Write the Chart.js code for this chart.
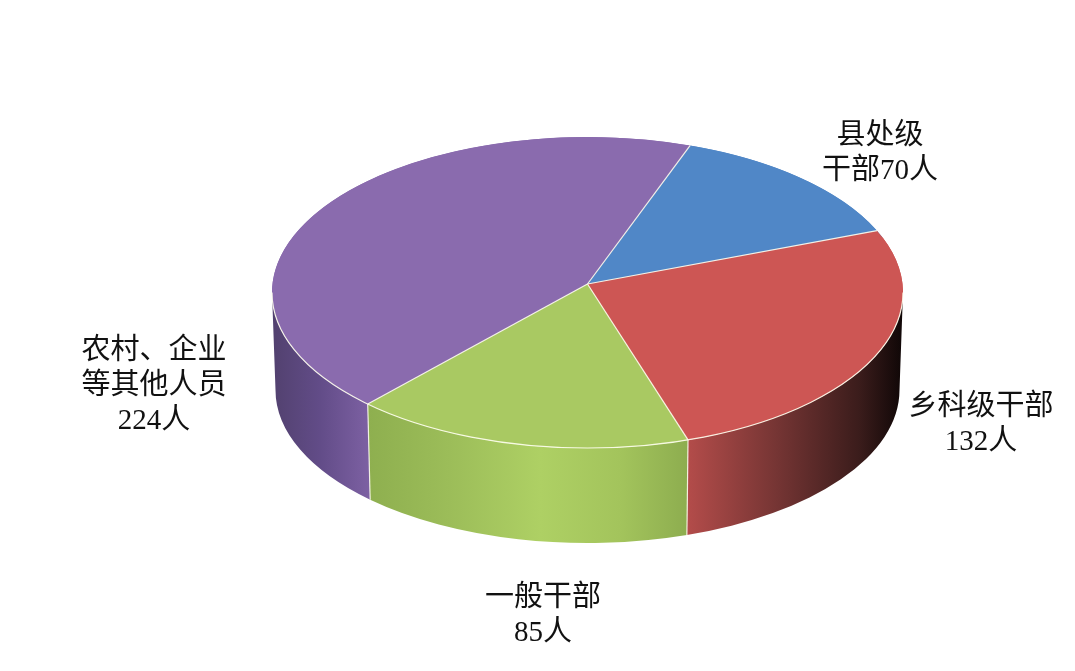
<!DOCTYPE html>
<html>
<head>
<meta charset="utf-8">
<script src="https://cdn.jsdelivr.net/npm/chart.js@4"></script>
<style>
html, body { margin: 0; padding: 0; background: #fff; }
canvas { display: block; }
</style>
</head>
<body>
<canvas id="pie" width="1075" height="671"></canvas>
<script>
const categories = ['县处级干部', '乡科级干部', '一般干部', '农村、企业等其他人员'];
const people = [70, 132, 85, 224];
const labelLines = [
    ['县处级', '干部70人'],
    ['乡科级干部', '132人'],
    ['一般干部', '85人'],
    ['农村、企业', '等其他人员', '224人']
];
const topColors = ['#5087c7', '#cd5654', '#a9c962', '#8a6bae'];

// look of the pie, separate from the data
const TOP = { x: 587.5, y: 292.5, rx: 315.5, ry: 155.5, apexY: 284 };
const BASE = { x: 587.5, y: 390, rx: 312, ry: 153 };
const LABEL_POS = [
    { x: 880, y: 136 },
    { x: 981, y: 407 },
    { x: 543, y: 598 },
    { x: 154, y: 351 }
];
const LINE_GAP = 35;
const FONT = '29px "Liberation Serif", "Noto Sans CJK SC", serif';
const wallStops = [
    null,
    [[688, '#b34c4a'], [780, '#733433'], [860, '#3a1c1b'], [900, '#120808']],
    [[368, '#8eaf4f'], [450, '#9cbd59'], [540, '#aed064'], [620, '#a3c45c'], [688, '#8dad4f']],
    [[273, '#52416f'], [320, '#624c88'], [368, '#7c60a2']]
];

// perspective pushes the rim points towards the far side of the ellipse
function warp(t) {
    return t - 0.051 * Math.cos(t);
}

function drawWalls(ctx, arcs) {
    arcs.forEach((arc, i) => {
        const a = Math.max(warp(arc.startAngle), 0);
        const b = Math.min(warp(arc.endAngle), Math.PI);
        if (b <= a || !wallStops[i]) return;
        const stops = wallStops[i];
        const x0 = stops[0][0];
        const x1 = stops[stops.length - 1][0];
        const grad = ctx.createLinearGradient(x0, 0, x1, 0);
        stops.forEach(s => grad.addColorStop((s[0] - x0) / (x1 - x0), s[1]));
        ctx.beginPath();
        ctx.ellipse(TOP.x, TOP.y, TOP.rx, TOP.ry, 0, a, b);
        ctx.ellipse(BASE.x, BASE.y, BASE.rx, BASE.ry, 0, b, a, true);
        ctx.closePath();
        ctx.fillStyle = grad;
        ctx.fill();
    });
    // thin light seams between the wall pieces
    ctx.strokeStyle = 'rgba(255,255,240,0.85)';
    ctx.lineWidth = 1.2;
    arcs.forEach(arc => {
        const t = warp(arc.startAngle);
        if (t > 0 && t < Math.PI) {
            ctx.beginPath();
            ctx.moveTo(TOP.x + TOP.rx * Math.cos(t), TOP.y + TOP.ry * Math.sin(t));
            ctx.lineTo(BASE.x + BASE.rx * Math.cos(t), BASE.y + BASE.ry * Math.sin(t));
            ctx.stroke();
        }
    });
}

const pie3d = {
    id: 'pie3d',
    beforeDatasetsDraw(chart) {
        const ctx = chart.ctx;
        const arcs = chart.getDatasetMeta(0).data;
        drawWalls(ctx, arcs);
        // squash the round pie into the top ellipse
        const arc = arcs[0];
        ctx.save();
        ctx.translate(TOP.x, TOP.y);
        ctx.scale(TOP.rx / arc.outerRadius, TOP.ry / arc.outerRadius);
        ctx.translate(-arc.x, -arc.y);
    },
    afterDatasetsDraw(chart) {
        const ctx = chart.ctx;
        ctx.restore();
        const arcs = chart.getDatasetMeta(0).data;
        // the centre sits a little above the ellipse middle because of the perspective
        arcs.forEach((arc, i) => {
            ctx.beginPath();
            ctx.moveTo(TOP.x, TOP.apexY);
            ctx.ellipse(TOP.x, TOP.y, TOP.rx, TOP.ry, 0, warp(arc.startAngle), warp(arc.endAngle));
            ctx.closePath();
            ctx.fillStyle = topColors[i];
            ctx.fill();
        });
        ctx.strokeStyle = 'rgba(255,255,240,0.9)';
        ctx.lineWidth = 1.2;
        arcs.forEach(arc => {
            const t = warp(arc.startAngle);
            ctx.beginPath();
            ctx.moveTo(TOP.x, TOP.apexY);
            ctx.lineTo(TOP.x + TOP.rx * Math.cos(t), TOP.y + TOP.ry * Math.sin(t));
            ctx.stroke();
        });
        ctx.beginPath();
        ctx.ellipse(TOP.x, TOP.y, TOP.rx, TOP.ry, 0, 0, Math.PI);
        ctx.stroke();
    },
    afterDraw(chart) {
        const ctx = chart.ctx;
        ctx.save();
        ctx.font = FONT;
        ctx.fillStyle = '#111';
        ctx.textAlign = 'center';
        ctx.textBaseline = 'middle';
        labelLines.forEach((lines, i) => {
            lines.forEach((line, j) => {
                ctx.fillText(line, LABEL_POS[i].x, LABEL_POS[i].y + j * LINE_GAP);
            });
        });
        ctx.restore();
    }
};

new Chart(document.getElementById('pie'), {
    type: 'pie',
    data: {
        labels: categories,
        datasets: [{
            data: people,
            backgroundColor: topColors,
            borderWidth: 0
        }]
    },
    options: {
        responsive: false,
        animation: false,
        rotation: 20,
        plugins: {
            legend: { display: false },
            tooltip: { enabled: false }
        }
    },
    plugins: [pie3d]
});
</script>
</body>
</html>
